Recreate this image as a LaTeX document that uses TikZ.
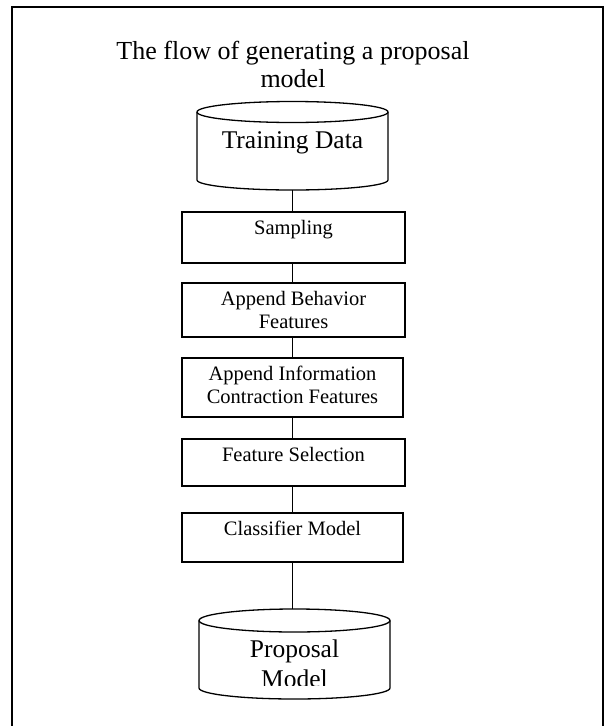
\documentclass[tikz,border=0pt]{standalone}
\usepackage{fontspec}
\setmainfont{Liberation Serif}
\begin{document}
\begin{tikzpicture}[x=1pt,y=-1pt,
  stepbox/.style={draw, line width=1.3pt, minimum width=223pt, inner sep=0pt},
  lbl/.style={font=\fontsize{20.5}{23}\selectfont, align=center, inner sep=0pt, anchor=base},
  big/.style={font=\fontsize{25.5}{30}\selectfont, align=center, inner sep=0pt, anchor=base},
  conn/.style={line width=1.2pt},
  cyl/.style={line width=1.3pt},
  hold/.style={inner sep=0pt, minimum width=191pt}]
\useasboundingbox (0,0) rectangle (608,726);
\draw[line width=2pt] (12,730) -- (12,7) -- (603,7) -- (603,730);

\node[font=\fontsize{26}{28}\selectfont, align=center, inner sep=0pt, anchor=base] (title) at (293,87) {The flow of generating a proposal\\model};

% Training data cylinder
\draw[cyl] (292.5,112) ellipse [x radius=95.5, y radius=10.5];
\draw[cyl] (197,112) -- (197,180) arc[start angle=180, end angle=0, x radius=95.5, y radius=10] -- (388,112);
\node[hold, minimum height=88.5pt] (td) at (292.5,145.75) {};
\node[big] (tdl) at (292.5,148) {Training Data};

% boxes
\node[stepbox, minimum height=51pt] (samp) at (293.5,237.5) {};
\node[lbl] (sampl) at (293.5,234) {Sampling};

\node[stepbox, minimum height=54pt] (beh) at (293.5,310) {};
\node[lbl] (behl) at (293.5,328) {Append Behavior\\Features};

\node[stepbox, minimum width=221pt, minimum height=59pt] (info) at (292.5,387.5) {};
\node[lbl] (infol) at (292.5,403) {Append Information\\Contraction Features};

\node[stepbox, minimum height=47pt] (fsel) at (293.5,462.5) {};
\node[lbl] (fsell) at (293.5,461) {Feature Selection};

\node[stepbox, minimum width=221pt, minimum height=49pt] (clf) at (292.5,537.5) {};
\node[lbl] (clfl) at (292.5,535) {Classifier Model};

% Proposal model cylinder
\draw[cyl] (294.5,620.5) ellipse [x radius=95.5, y radius=11.5];
\draw[cyl] (199,620.5) -- (199,688) arc[start angle=180, end angle=0, x radius=95.5, y radius=11] -- (390,620.5);
\node[hold, minimum height=90pt] (pm) at (294.5,654) {};
\begin{scope}
\clip (199,600) rectangle (390,685);
\node[big] (pml) at (294.5,687) {Proposal\\Model};
\end{scope}

% connectors
\draw[conn] (td.south) -- (td.south |- samp.north);
\draw[conn] (td.south |- samp.south) -- (td.south |- beh.north);
\draw[conn] (td.south |- beh.south) -- (td.south |- info.north);
\draw[conn] (td.south |- info.south) -- (td.south |- fsel.north);
\draw[conn] (td.south |- fsel.south) -- (td.south |- clf.north);
\draw[conn] (td.south |- clf.south) -- (td.south |- pm.north);
\end{tikzpicture}
\end{document}
